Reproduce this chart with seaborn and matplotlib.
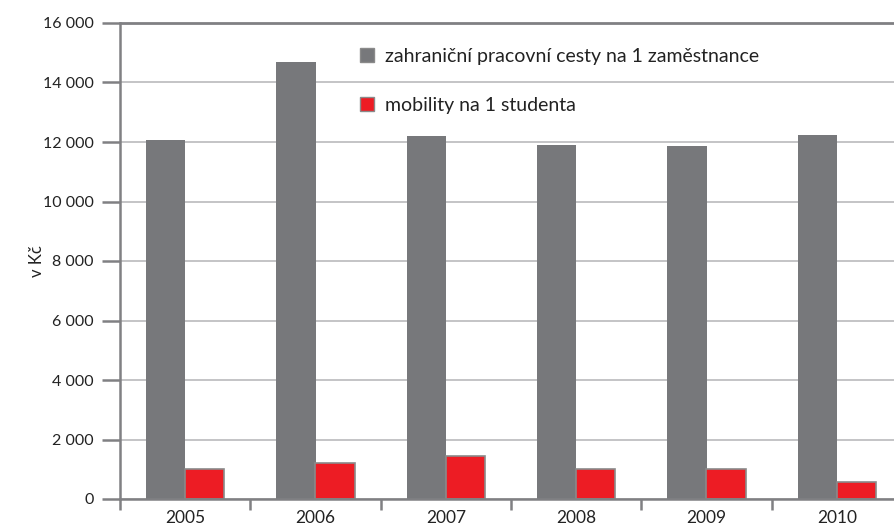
import matplotlib
matplotlib.use("Agg")
import matplotlib.pyplot as plt
from matplotlib.ticker import FuncFormatter, FixedLocator
import seaborn as sns
import pandas as pd

years = ["2005", "2006", "2007", "2008", "2009", "2010"]
employees = [12070, 14690, 12200, 11900, 11870, 12230]
students = [1000, 1220, 1445, 1000, 1000, 560]
series_names = ["zahraniční pracovní cesty na 1 zaměstnance", "mobility na 1 studenta"]
y_label = "v Kč"

df = pd.DataFrame({
    "rok": years * 2,
    "hodnota": employees + students,
    "serie": [series_names[0]] * len(years) + [series_names[1]] * len(years),
})

sns.set_theme(style="white")
plt.rcParams["font.family"] = ["Lato", "DejaVu Sans"]

fig = plt.figure(figsize=(8.94, 5.31), dpi=100)
ax = fig.add_axes([120 / 894, 1 - 499 / 531, 782 / 894, 476 / 531])

gray = "#77787b"
red = "#ed1c24"
sns.barplot(data=df, x="rok", y="hodnota", hue="serie", palette=[gray, red],
            width=0.6, gap=0, ax=ax, saturation=1, linewidth=0, zorder=3)

for p in ax.containers[1]:
    p.set_edgecolor("#8a8a8a")
    p.set_linewidth(1.2)

ax.set_xlim(-0.5, 5.5)
ax.set_ylim(0, 16000)
ax.set_yticks(range(0, 16001, 2000))
ax.yaxis.set_major_formatter(FuncFormatter(lambda v, p: f"{int(v):,}".replace(",", " ")))
ax.set_xlabel("")
ax.set_ylabel(y_label, fontsize=12, color="#222222")
ax.yaxis.set_label_coords(-0.096, 0.5)

ax.set_axisbelow(True)
ax.yaxis.grid(True, color="#c4c4c6", linewidth=1.4)
ax.xaxis.grid(False)
ax.axhline(16000, color="#808083", lw=2.0, zorder=2, clip_on=False)

for s in ["top", "right"]:
    ax.spines[s].set_visible(False)
for s in ["left", "bottom"]:
    ax.spines[s].set_color("#808083")
    ax.spines[s].set_linewidth(1.8)
    ax.spines[s].set_zorder(4)

ax.xaxis.set_minor_locator(FixedLocator([i - 0.5 for i in range(7)]))
ax.tick_params(axis="x", which="major", length=0, pad=8, labelsize=12.5, labelcolor="#222222")
ax.tick_params(axis="x", which="minor", length=8, width=1.8, color="#808083", direction="out", bottom=True)
ax.tick_params(axis="y", which="major", length=13, width=1.8, color="#808083", direction="out", left=True,
               pad=6, labelsize=11.5, labelcolor="#222222")

leg = ax.legend(loc="upper left", bbox_to_anchor=(0.285, 0.985), frameon=False, fontsize=14,
                handlelength=0.72, handleheight=0.72, handletextpad=0.55, labelspacing=1.65)
for t in leg.get_texts():
    t.set_color("#222222")
for h in leg.legend_handles:
    h.set_edgecolor("#8a8a8a")
    h.set_linewidth(1.0)

fig.savefig("out.png", dpi=100)
